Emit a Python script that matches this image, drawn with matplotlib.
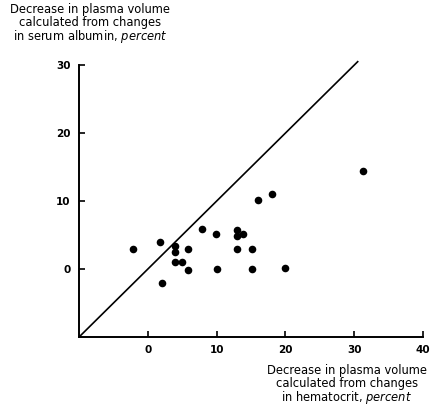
import matplotlib
matplotlib.use("Agg")
import matplotlib.pyplot as plt

# data (decrease in plasma volume, percent)
hematocrit = [-2.1, 1.7, 2.0, 3.9, 3.9, 3.9, 5.0, 5.8, 5.8, 7.9, 9.9, 10.0,
              13.0, 13.0, 13.9, 13.0, 15.1, 15.1, 16.0, 18.1, 20.0, 31.3]
albumin = [3.0, 4.0, -2.0, 3.4, 2.5, 1.1, 1.1, 2.9, -0.1, 5.9, 5.1, 0.0,
           5.7, 4.8, 5.1, 2.9, 3.0, 0.0, 10.1, 11.0, 0.1, 14.4]
x_ticks = [0, 10, 20, 30, 40]
y_ticks = [0, 10, 20, 30]
identity = [-10, 30.6]

plt.rcParams['font.family'] = ['DejaVu Sans']

fig = plt.figure(figsize=(4.32, 4.11), dpi=100)
ax = fig.add_axes([0.183, 0.180, 0.796, 0.678])

ax.plot(identity, identity, color='black', lw=1.2, solid_capstyle='butt')
ax.scatter(hematocrit, albumin, s=30, color='black', zorder=3, linewidths=0)

ax.set_xlim(-10, 40)
ax.set_ylim(-10, 31)
ax.spines['top'].set_visible(False)
ax.spines['right'].set_visible(False)
ax.spines['left'].set_linewidth(1.4)
ax.spines['bottom'].set_linewidth(1.4)
ax.spines['left'].set_bounds(-10, 30)

ax.set_xticks(x_ticks)
ax.set_yticks(y_ticks)
ax.tick_params(direction='in', length=4, width=1.2, pad=6)
for lab in ax.get_xticklabels() + ax.get_yticklabels():
    lab.set_fontweight('bold')
    lab.set_fontsize(7.5)

# axis titles
fs = 8.3
fig.text(90 / 432, 1 - 24 / 411,
         "Decrease in plasma volume\ncalculated from changes\nin serum albumin, $\\it{percent}$",
         ha='center', va='center', fontsize=fs, linespacing=0.95, multialignment='center')
fig.text(347 / 432, 1 - 385 / 411,
         "Decrease in plasma volume\ncalculated from changes\nin hematocrit, $\\it{percent}$",
         ha='center', va='center', fontsize=fs, linespacing=0.95, multialignment='center')

fig.savefig("out.png", dpi=100)
